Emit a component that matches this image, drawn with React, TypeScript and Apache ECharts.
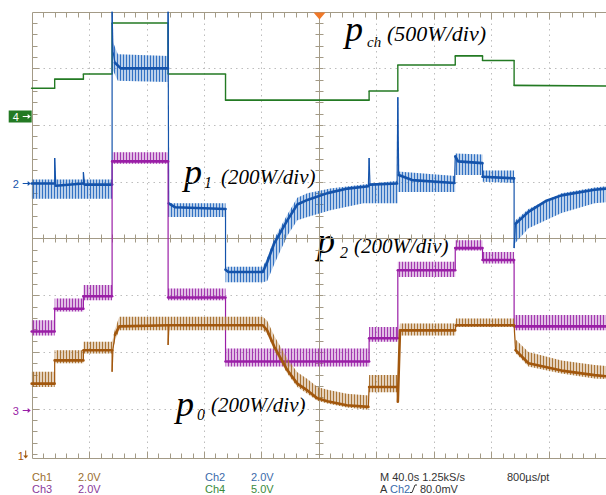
import React, { useEffect, useRef } from "react";
import * as echarts from "echarts";

// ---- axes (time: 40 s/div, vertical: screen divisions) ----
const T_MIN = 0;
const T_MAX = 400;
const DIV_T = 40;
const Y_MIN = -3.87;
const Y_MAX = 4;
const T_TRIGGER = 200;
const vGridLines = [40, 80, 120, 160, 240, 280, 320, 360];
const hGridLines = [-3, -2, -1, 1, 2, 3];

// ---- channel ground markers ----
const markerLabels = ["4", "2", "3", "1"];
const markerLevels = [2.16, 0.98, -3.02, -3.87];

// ---- Ch4: p_ch (500 W/div) ----
const pchMain = [
  [0, 2.65], [16, 2.65], [16, 2.81], [36, 2.81], [36, 2.9], [56, 2.9], [56, 3.8], [95, 3.8],
  [95, 2.9], [135, 2.9], [135, 2.44], [235, 2.44], [235, 2.6], [255, 2.6], [255, 3.06], [295, 3.06],
  [295, 3.22], [314, 3.22], [314, 3.14], [336, 3.14], [336, 2.7], [400, 2.69],
];

// ---- Ch2: p1 (200 W/div) ----
const p1Main = [
  [0, 0.97], [16, 0.97], [16, 1.42], [16.8, 0.93], [36, 0.97], [36, 1.17], [36.8, 0.95], [56, 0.95],
  [56, 4.0], [56.6, 3.3], [58, 3.1], [62, 3.0], [95, 3.0], [95, 4.0], [95.4, 0.62], [100, 0.55],
  [135, 0.52], [135, -0.55], [137, -0.59], [161, -0.59], [164, -0.42], [169, -0.08], [178, 0.32],
  [185, 0.6], [192, 0.68], [206, 0.8], [220, 0.88], [234.5, 0.92], [235, 1.42], [235.6, 0.95],
  [254.5, 0.97], [255, 2.49], [255.6, 1.12], [265, 1.03], [294.5, 0.98], [295, 1.45], [297, 1.36],
  [314, 1.33], [314, 1.09], [336, 1.06], [336, -0.17], [337, 0.26], [346, 0.47], [358, 0.66],
  [369, 0.76], [392, 0.86], [400, 0.88],
];
const p1Env = [
  [0, 1.04, 0.7], [56, 1.04, 0.7], [56, 3.5, 3.0], [60, 3.25, 2.78], [95, 3.22, 2.76], [95, 0.62, 0.38],
  [135, 0.62, 0.38], [135, -0.5, -0.77], [161, -0.5, -0.77], [164, -0.35, -0.75], [169, 0.0, -0.45],
  [178, 0.42, 0.05], [185, 0.72, 0.32], [192, 0.8, 0.38], [208, 0.88, 0.5], [231, 0.95, 0.62],
  [255, 1.02, 0.62], [255, 1.18, 0.82], [295, 1.1, 0.82], [295, 1.5, 1.12], [314, 1.48, 1.12],
  [314, 1.2, 1.0], [336, 1.2, 0.98], [336, 0.3, -0.1], [346, 0.52, 0.18], [369, 0.8, 0.45],
  [392, 0.9, 0.62], [400, 0.92, 0.64],
];

// ---- Ch3: p2 (200 W/div) ----
const p2Main = [
  [0, -1.64], [16, -1.64], [16, -1.24], [36, -1.24], [36, -1.02], [56, -1.02], [56, 1.36], [95, 1.36],
  [95, -1.04], [135, -1.04], [135, -2.17], [235, -2.17], [235, -1.76], [255, -1.76], [255, -0.56],
  [295, -0.56], [295, -0.17], [314, -0.17], [314, -0.38], [336, -0.38], [336, -1.55], [400, -1.55],
];
const p2Env = [
  [0, -1.44, -1.71], [16, -1.44, -1.71], [16, -1.06, -1.29], [36, -1.06, -1.29], [36, -0.82, -1.09],
  [56, -0.82, -1.09], [56, 1.52, 1.32], [95, 1.52, 1.32], [95, -0.88, -1.09], [135, -0.88, -1.09],
  [135, -1.94, -2.26], [235, -1.94, -2.26], [235, -1.56, -1.82], [255, -1.56, -1.82], [255, -0.41, -0.68],
  [295, -0.41, -0.68], [295, -0.03, -0.21], [314, -0.03, -0.21], [314, -0.24, -0.44], [336, -0.24, -0.44],
  [336, -1.35, -1.62], [400, -1.35, -1.62],
];

// ---- Ch1: p0 (200 W/div) ----
const p0Main = [
  [0, -2.56], [16, -2.56], [16, -2.15], [36, -2.15], [36, -1.97], [56, -1.97], [56, -2.35], [56.6, -1.95],
  [58, -1.7], [61, -1.55], [95, -1.53], [95, -1.88], [95.6, -1.53], [161, -1.53], [164, -1.62],
  [169, -1.91], [178, -2.32], [185, -2.56], [192, -2.68], [199, -2.82], [206, -2.87], [219.5, -2.94],
  [234.5, -2.97], [235, -2.62], [254.5, -2.62], [255, -2.88], [256.5, -1.62], [295, -1.62],
  [295.5, -1.53], [336, -1.53], [337, -1.97], [346, -2.2], [369, -2.33], [392, -2.41], [400, -2.43],
];
const p0Env = [
  [0, -2.35, -2.62], [16, -2.35, -2.62], [16, -1.97, -2.2], [36, -1.97, -2.2], [36, -1.82, -2.03],
  [56, -1.82, -2.03], [58, -1.6, -1.8], [61, -1.38, -1.62], [161, -1.38, -1.62], [164, -1.45, -1.68],
  [169, -1.72, -1.98], [178, -2.12, -2.38], [185, -2.36, -2.62], [192, -2.48, -2.74], [199, -2.62, -2.86],
  [206, -2.67, -2.91], [219.5, -2.74, -2.98], [234.5, -2.77, -3.02], [235, -2.41, -2.71], [255, -2.41, -2.71],
  [256.5, -1.5, -1.71], [295, -1.5, -1.71], [295.5, -1.41, -1.56], [336, -1.41, -1.56], [337, -1.78, -2.02],
  [346, -2.0, -2.26], [369, -2.15, -2.38], [392, -2.23, -2.47], [400, -2.25, -2.48],
];

// ---- colours ----
const GREEN = "#237a23";
const BLUE = "#1453ab";
const MAGENTA = "#9a1ea6";
const BROWN = "#a2570d";
const AXIS = "#a39a86";
const DOT = "#bdbdbd";
const markerColors = [GREEN, BLUE, MAGENTA, BROWN];

const SERIF = '"Liberation Serif", "Times New Roman", serif';
const SANS = '"Liberation Sans", Arial, sans-serif';

function renderGraticule(_params: any, api: any) {
  const ch: any[] = [];
  const px = (v: number) => Math.round(v) + 0.5;
  const [ax0, ay0] = api.coord([T_MIN, Y_MAX]);
  const [ax1, ay1] = api.coord([T_MAX, Y_MIN]);
  const x0 = px(ax0), y0 = px(ay0), x1 = px(ax1), y1 = px(ay1);
  const line = (xa: number, ya: number, xb: number, yb: number, style: any) =>
    ch.push({ type: "line", shape: { x1: xa, y1: ya, x2: xb, y2: yb }, style });
  const dot = { stroke: DOT, lineWidth: 1, lineDash: [1.5, 4] };
  const solid = { stroke: AXIS, lineWidth: 1 };
  for (const t of vGridLines) {
    const x = px(api.coord([t, 0])[0]);
    line(x, y0, x, y1, dot);
  }
  for (const v of hGridLines) {
    const y = px(api.coord([0, v])[1]);
    line(x0, y, x1, y, dot);
  }
  const c = api.coord([T_TRIGGER, 0]);
  const xc = px(c[0]), yc = px(c[1]);
  line(xc, y0, xc, y1, solid);
  line(x0, yc, x1, yc, solid);
  ch.push({
    type: "rect",
    shape: { x: x0, y: y0, width: x1 - x0, height: y1 - y0 },
    style: { fill: "none", stroke: AXIS, lineWidth: 1 },
  });
  const nT = Math.round(((T_MAX - T_MIN) / DIV_T) * 5);
  for (let i = 1; i < nT; i++) {
    const t = T_MIN + (i * DIV_T) / 5;
    const x = px(api.coord([t, 0])[0]);
    const L = i % 5 === 0 ? 7 : 5;
    line(x, y0, x, y0 + L, solid);
    line(x, y1, x, y1 - L, solid);
    line(x, yc - 4, x, yc + 4, solid);
  }
  for (let i = 1; ; i++) {
    const v = Y_MAX - i * 0.2;
    if (v <= Y_MIN + 0.05) break;
    const y = px(api.coord([0, v])[1]);
    line(x0, y, x0 + (i % 5 === 0 ? 7 : 5), y, solid);
    line(xc - 4, y, xc + 4, y, solid);
  }
  ch.push({
    type: "polygon",
    shape: { points: [[xc - 6, y0], [xc + 6, y0], [xc, y0 + 7]] },
    style: { fill: "#f07828" },
  });
  return { type: "group", children: ch };
}

function renderMarker(params: any, api: any) {
  const i = params.dataIndex;
  const p = api.coord([T_MIN, api.value(1)]);
  const x = p[0];
  const y = Math.round(p[1]) + 0.5;
  const color = markerColors[i];
  const label = markerLabels[i];
  const ch: any[] = [];
  const font = `11px ${SANS}`;
  if (i === 0) {
    ch.push({ type: "rect", shape: { x: x - 23, y: y - 6, width: 23, height: 12 }, style: { fill: color } });
    ch.push({ type: "text", style: { text: label, x: x - 16, y: y, fill: "#fff", font, align: "center", verticalAlign: "middle" } });
    ch.push({ type: "line", shape: { x1: x - 9, y1: y, x2: x - 3, y2: y }, style: { stroke: "#fff", lineWidth: 1 } });
    ch.push({ type: "polygon", shape: { points: [[x - 4, y - 2.5], [x - 1, y], [x - 4, y + 2.5]] }, style: { fill: "#fff" } });
  } else if (i === 3) {
    ch.push({ type: "text", style: { text: label, x: x - 11, y: y - 3, fill: color, font, align: "center", verticalAlign: "middle" } });
    ch.push({ type: "line", shape: { x1: x - 6, y1: y - 8, x2: x - 6, y2: y - 2 }, style: { stroke: color, lineWidth: 1 } });
    ch.push({ type: "polygon", shape: { points: [[x - 8.5, y - 3], [x - 6, y], [x - 3.5, y - 3]] }, style: { fill: color } });
  } else {
    ch.push({ type: "text", style: { text: label, x: x - 16, y: y, fill: color, font, align: "center", verticalAlign: "middle" } });
    ch.push({ type: "line", shape: { x1: x - 9, y1: y, x2: x - 3, y2: y }, style: { stroke: color, lineWidth: 1 } });
    ch.push({ type: "polygon", shape: { points: [[x - 4, y - 2.5], [x - 1, y], [x - 4, y + 2.5]] }, style: { fill: color } });
  }
  return { type: "group", children: ch };
}

// vertical-stripe fill imitating the sampled ripple of the scope traces
function stripeFill(color: string): any {
  const c = document.createElement("canvas");
  c.width = 3;
  c.height = 2;
  const g = c.getContext("2d");
  if (!g) return color;
  g.fillStyle = color;
  g.globalAlpha = 0.2;
  g.fillRect(0, 0, 3, 2);
  g.globalAlpha = 0.95;
  g.fillRect(0, 0, 1, 2);
  return { image: c, repeat: "repeat", imageWidth: 3, imageHeight: 2 };
}

const bandRenderer = (env: number[][], color: string, fill: any) => (_params: any, api: any) => {
  const up = env.map((p) => api.coord([p[0], p[1]]));
  const lo = env.map((p) => api.coord([p[0], p[2]])).reverse();
  const pts = up.concat(lo);
  return {
    type: "group",
    children: [
      { type: "polygon", shape: { points: pts }, style: { fill: color, opacity: 0.15 } },
      { type: "polygon", shape: { points: pts }, style: { fill } },
    ],
  };
};

const bandSeries = (env: number[][], color: string) => ({
  type: "custom",
  renderItem: bandRenderer(env, color, stripeFill(color)),
  data: [[T_MIN, 0]],
  silent: true,
});

// trace: thick where the signal dwells, thin on fast vertical edges (as on the scope)
const traceRenderer = (pts: number[][], color: string, width: number, thin: number) => (_p: any, api: any) => {
  const children: any[] = [];
  let run: number[][] = [];
  const flush = () => {
    if (run.length > 1)
      children.push({
        type: "polyline",
        shape: { points: run },
        style: { stroke: color, lineWidth: width, fill: "none", lineJoin: "round", lineCap: "round" },
      });
  };
  for (let i = 0; i < pts.length; i++) {
    const c = api.coord(pts[i]);
    if (i > 0 && Math.abs(pts[i][0] - pts[i - 1][0]) < 1.5) {
      const pc = api.coord(pts[i - 1]);
      children.push({
        type: "line",
        shape: { x1: pc[0], y1: pc[1], x2: c[0], y2: c[1] },
        style: { stroke: color, lineWidth: thin },
      });
      flush();
      run = [c];
    } else {
      run.push(c);
    }
  }
  flush();
  return { type: "group", children };
};

const traceSeries = (data: number[][], color: string, width: number, thin: number) => ({
  type: "custom",
  renderItem: traceRenderer(data, color, width, thin),
  data: [[T_MIN, 0]],
  silent: true,
});

const txt = (text: string, x: number, y: number, font: string, fill: string) => ({
  type: "text",
  x,
  y,
  silent: true,
  style: { text, font, fill, align: "left", verticalAlign: "middle" },
});

export default function App() {
  const ref = useRef<HTMLDivElement>(null);
  useEffect(() => {
    if (!ref.current) return;
    const chart = echarts.init(ref.current, null, { renderer: "svg" });
    const big = `italic 36px ${SERIF}`;
    const unit = `italic 21px ${SERIF}`;
    const sub = `italic 16px ${SERIF}`;
    const st = `11px ${SANS}`;
    const R1 = 477;
    const R2 = 488.5;
    chart.setOption({
      animation: false,
      backgroundColor: "#ffffff",
      grid: { left: 31.7, top: 11.7, width: 580, height: 446.2 },
      xAxis: { type: "value", min: T_MIN, max: T_MAX, show: false },
      yAxis: { type: "value", min: Y_MIN, max: Y_MAX, show: false },
      series: [
        { type: "custom", renderItem: renderGraticule, data: [[T_MIN, 0]], silent: true, z: 1 },
        traceSeries(pchMain, GREEN, 1.6, 1.4),
        bandSeries(p1Env, "#2a6cc0"),
        traceSeries(p1Main, BLUE, 2.6, 1.2),
        bandSeries(p2Env, "#a032ae"),
        traceSeries(p2Main, MAGENTA, 2.6, 1.2),
        bandSeries(p0Env, "#a8702e"),
        traceSeries(p0Main, BROWN, 2.6, 1.2),
        {
          type: "custom",
          renderItem: renderMarker,
          data: markerLevels.map((v) => [T_MIN, v]),
          silent: true,
          clip: false,
        },
      ],
      graphic: [
        // annotations
        txt("p", 345, 28.8, big, "#000"),
        txt("ch", 367, 42, `italic 15px ${SERIF}`, "#000"),
        txt("(500W/div)", 387, 33.5, `italic 22px ${SERIF}`, "#000"),
        txt("p", 184, 171.8, big, "#000"),
        txt("1", 204, 182.8, sub, "#000"),
        txt("(200W/div)", 221, 176.5, unit, "#000"),
        txt("p", 317, 240.8, big, "#000"),
        txt("2", 340, 252.6, sub, "#000"),
        txt("(200W/div)", 354, 245.9, unit, "#000"),
        txt("p", 176, 403.8, big, "#000"),
        txt("0", 197, 414.6, sub, "#000"),
        txt("(200W/div)", 211, 405.4, unit, "#000"),
        // status lines
        txt("Ch1", 32, R1, st, "#9a6e2e"),
        txt("2.0V", 78, R1, st, "#9a6e2e"),
        txt("Ch3", 32, R2, st, "#8a3a9a"),
        txt("2.0V", 78, R2, st, "#8a3a9a"),
        txt("Ch2", 205, R1, st, "#3a6aaa"),
        txt("2.0V", 251, R1, st, "#3a6aaa"),
        txt("Ch4", 205, R2, st, "#3a8a3a"),
        txt("5.0V", 251, R2, st, "#3a8a3a"),
        txt("M 40.0s 1.25kS/s", 380, R1, st, "#333"),
        txt("800µs/pt", 507, R1, st, "#333"),
        txt("A", 380, R2, st, "#333"),
        txt("Ch2", 390, R2, st, "#3a6aaa"),
        {
          type: "polyline",
          silent: true,
          shape: { points: [[410, 492.5], [412, 492.5], [415, 485], [417, 485]] },
          style: { stroke: "#333", lineWidth: 1, fill: "none" },
        },
        txt("80.0mV", 420, R2, st, "#333"),
      ],
    });
    return () => chart.dispose();
  }, []);
  return (
    <div
      ref={ref}
      style={{ position: "fixed", left: 0, top: 0, width: 606, height: 495, background: "#fff" }}
    />
  );
}
